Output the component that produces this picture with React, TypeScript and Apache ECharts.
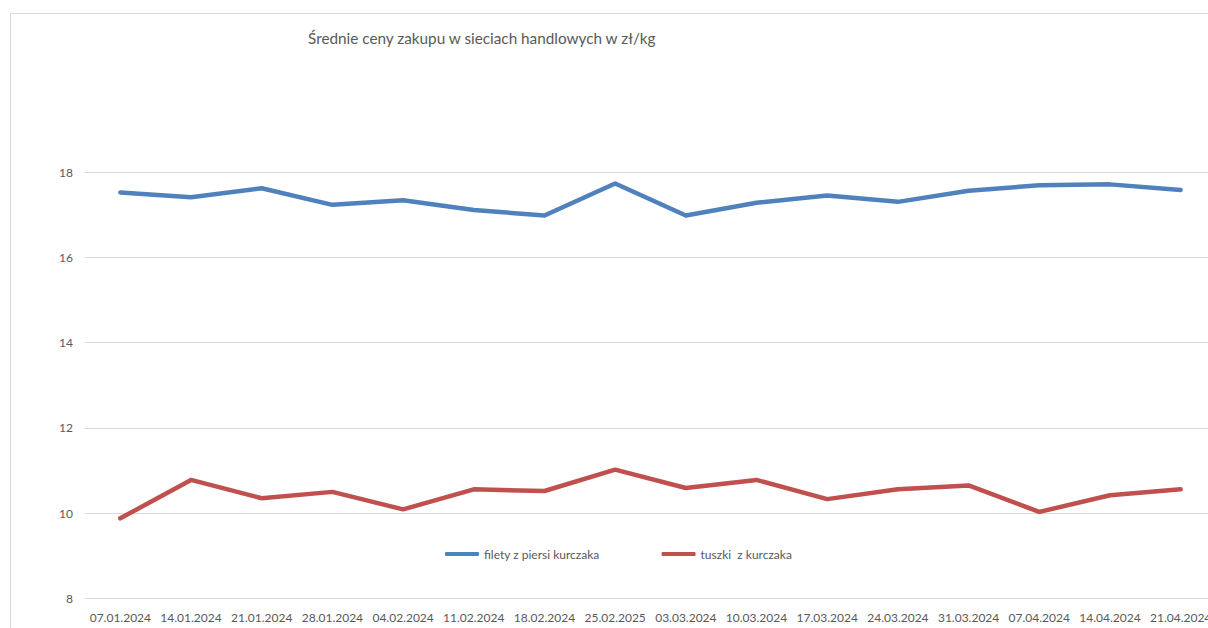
import React, { useEffect, useRef } from "react";
import * as echarts from "echarts";

const categories = [
  "07.01.2024", "14.01.2024", "21.01.2024", "28.01.2024", "04.02.2024", "11.02.2024",
  "18.02.2024", "25.02.2025", "03.03.2024", "10.03.2024", "17.03.2024", "24.03.2024",
  "31.03.2024", "07.04.2024", "14.04.2024", "21.04.2024",
];
const filety = [17.52, 17.41, 17.62, 17.23, 17.34, 17.11, 16.98, 17.73, 16.98, 17.28, 17.45, 17.3, 17.56, 17.69, 17.71, 17.58];
const tuszki = [9.88, 10.78, 10.35, 10.5, 10.09, 10.56, 10.52, 11.02, 10.59, 10.78, 10.33, 10.56, 10.65, 10.03, 10.42, 10.56];
const seriesNames = ["filety z piersi kurczaka", "tuszki  z kurczaka"];
const titleText = "Średnie ceny zakupu w sieciach handlowych w zł/kg";

const FONT = "Lato, 'Open Sans', sans-serif";
const TXT = "#595959";

export default function App() {
  const ref = useRef<HTMLDivElement>(null);
  useEffect(() => {
    if (!ref.current) return;
    const chart = echarts.init(ref.current, undefined, { renderer: "svg" });
    chart.setOption({
      animation: false,
      backgroundColor: "#ffffff",
      textStyle: { fontFamily: FONT },
      title: {
        text: titleText,
        left: 308,
        top: 30,
        padding: 0,
        textStyle: { fontFamily: FONT, fontSize: 15.3, fontWeight: "normal", color: TXT },
      },
      graphic: [
        {
          type: "rect",
          shape: { x: 10.5, y: 13.5, width: 1400, height: 800 },
          style: { fill: "none", stroke: "#d9d9d9", lineWidth: 1 },
          silent: true,
        },
      ],
      legend: {
        left: 445,
        top: 548,
        padding: 0,
        itemWidth: 34,
        itemHeight: 4,
        itemGap: 62,
        icon: "roundRect",
        textStyle: { fontFamily: FONT, fontSize: 12, color: TXT },
        data: seriesNames,
      },
      grid: { left: 85, top: 172, width: 1131, height: 426.5, containLabel: false },
      xAxis: {
        type: "category",
        data: categories,
        boundaryGap: true,
        axisLine: { show: false },
        axisTick: { show: false },
        axisLabel: { interval: 0, color: TXT, fontFamily: FONT, fontSize: 12, margin: 13 },
        splitLine: { show: false },
      },
      yAxis: {
        type: "value",
        min: 8,
        max: 18,
        interval: 2,
        axisLine: { show: false },
        axisTick: { show: false },
        axisLabel: { color: TXT, fontFamily: FONT, fontSize: 12, margin: 12 },
        splitLine: { lineStyle: { color: "#d9d9d9", width: 1 } },
      },
      series: [
        {
          name: seriesNames[0],
          type: "line",
          data: filety,
          symbol: "none",
          color: "#4f81bd",
          lineStyle: { width: 4.5, color: "#4f81bd", cap: "round", join: "round" },
        },
        {
          name: seriesNames[1],
          type: "line",
          data: tuszki,
          symbol: "none",
          color: "#c0504d",
          lineStyle: { width: 4.5, color: "#c0504d", cap: "round", join: "round" },
        },
      ],
    });
    return () => chart.dispose();
  }, []);
  return (
    <div
      ref={ref}
      style={{ position: "fixed", left: 0, top: 0, width: 1230, height: 628 }}
    />
  );
}
